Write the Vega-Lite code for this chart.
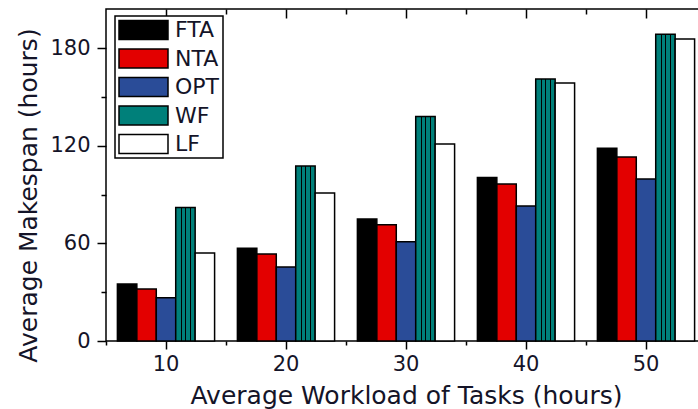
{
  "$schema": "https://vega.github.io/schema/vega-lite/v6.json",
  "width": 600,
  "height": 332,
  "autosize": {"type": "none"},
  "padding": {"left": 106, "top": 9, "right": 0, "bottom": 68},
  "background": "white",
  "config": {
    "view": {"stroke": "black", "strokeWidth": 1.5},
    "font": "DejaVu Sans",
    "axis": {"labelFont": "DejaVu Sans", "titleFont": "DejaVu Sans", "labelColor": "#141428", "titleColor": "#141428", "tickColor": "black", "tickWidth": 1.5, "domain": false, "grid": false, "titleFontWeight": "normal"}
  },
  "data": {"values": [
    {"load": 10, "method": "FTA", "value": 35},
    {"load": 10, "method": "NTA", "value": 32},
    {"load": 10, "method": "OPT", "value": 26.5},
    {"load": 10, "method": "WF", "value": 82},
    {"load": 10, "method": "LF", "value": 54},
    {"load": 20, "method": "FTA", "value": 57},
    {"load": 20, "method": "NTA", "value": 53.5},
    {"load": 20, "method": "OPT", "value": 45.5},
    {"load": 20, "method": "WF", "value": 107.5},
    {"load": 20, "method": "LF", "value": 91},
    {"load": 30, "method": "FTA", "value": 75},
    {"load": 30, "method": "NTA", "value": 71.5},
    {"load": 30, "method": "OPT", "value": 61},
    {"load": 30, "method": "WF", "value": 138},
    {"load": 30, "method": "LF", "value": 121},
    {"load": 40, "method": "FTA", "value": 100.5},
    {"load": 40, "method": "NTA", "value": 96.5},
    {"load": 40, "method": "OPT", "value": 83},
    {"load": 40, "method": "WF", "value": 161},
    {"load": 40, "method": "LF", "value": 158.5},
    {"load": 50, "method": "FTA", "value": 118.5},
    {"load": 50, "method": "NTA", "value": 113},
    {"load": 50, "method": "OPT", "value": 99.5},
    {"load": 50, "method": "WF", "value": 188.5},
    {"load": 50, "method": "LF", "value": 185.5}
  ]},
  "layer": [
    {
      "mark": {"type": "bar", "stroke": "black", "strokeWidth": 1.5, "opacity": 1},
      "encoding": {
        "x": {"field": "load", "type": "ordinal", "scale": {"paddingInner": 0.19, "paddingOuter": 0.095},
              "axis": {"orient": "bottom", "ticks": false, "labelAngle": 0, "labelFontSize": 21, "labelPadding": 12, "title": "Average Workload of Tasks (hours)", "titleFontSize": 25, "titlePadding": 9}},
        "xOffset": {"field": "method", "type": "nominal", "sort": ["FTA", "NTA", "OPT", "WF", "LF"], "scale": {"paddingInner": 0, "paddingOuter": 0}},
        "y": {"field": "value", "type": "quantitative", "scale": {"domain": [0, 204], "nice": false},
              "axis": {"orient": "left", "values": [0, 30, 60, 90, 120, 150, 180], "tickSize": {"condition": {"test": "datum.value % 60 === 0", "value": 9}, "value": 5},
                       "labelExpr": "datum.value % 60 === 0 ? datum.label : ''", "labelFontSize": 21, "labelPadding": 7, "title": "Average Makespan (hours)", "titleFontSize": 25, "titlePadding": 8, "titleY": 186}},
        "color": {
          "condition": {"test": "datum.method === 'WF'", "value": {"gradient": "linear", "x1": 0, "y1": 0, "x2": 1, "y2": 0, "stops": [
              {"offset": 0, "color": "#00807a"}, {"offset": 0.25, "color": "#00807a"}, {"offset": 0.25, "color": "#000000"}, {"offset": 0.31, "color": "#000000"},
              {"offset": 0.31, "color": "#00807a"}, {"offset": 0.49, "color": "#00807a"}, {"offset": 0.49, "color": "#000000"}, {"offset": 0.55, "color": "#000000"},
              {"offset": 0.55, "color": "#00807a"}, {"offset": 0.73, "color": "#00807a"}, {"offset": 0.73, "color": "#000000"}, {"offset": 0.79, "color": "#000000"},
              {"offset": 0.79, "color": "#00807a"}, {"offset": 1, "color": "#00807a"}]}},
          "field": "method", "type": "nominal", "sort": ["FTA", "NTA", "OPT", "WF", "LF"],
          "scale": {"domain": ["FTA", "NTA", "OPT", "WF", "LF"], "range": ["#000000", "#e30000", "#2a4c98", "#00807a", "#ffffff"]},
          "legend": {"orient": "none", "legendX": 9, "legendY": 7, "title": null, "direction": "vertical",
                     "strokeColor": "black", "fillColor": "white", "padding": 3, "cornerRadius": 0,
                     "symbolType": "M-1,-0.39H1V0.39H-1Z", "symbolSize": 2401, "symbolStrokeColor": "black", "symbolStrokeWidth": 1.5, "symbolOpacity": 1,
                     "labelFontSize": 22, "labelFont": "DejaVu Sans", "labelColor": "#141428", "labelOffset": 6, "rowPadding": 6.5, "clipHeight": 22,
                     "encode": {"legend": {"update": {"strokeWidth": {"value": 1.5}}}}}}
      }
    },
    {
      "mark": {"type": "point", "opacity": 0},
      "encoding": {
        "x": {"field": "load", "type": "quantitative", "scale": {"domain": [5, 55], "nice": false, "zero": false},
              "axis": {"orient": "bottom", "values": [5, 10, 15, 20, 25, 30, 35, 40, 45, 50, 55], "labels": false, "title": null,
                       "tickSize": {"condition": {"test": "datum.value % 10 === 0", "value": 8}, "value": 4}}}
      }
    },
    {
      "mark": {"type": "point", "opacity": 0},
      "encoding": {
        "x": {"field": "load", "type": "quantitative", "scale": {"domain": [5, 55], "nice": false, "zero": false},
              "axis": {"orient": "top", "values": [10, 15, 20, 25, 30, 35, 40, 45, 50], "labels": false, "title": null,
                       "tickSize": {"condition": {"test": "datum.value % 10 === 0", "value": -9}, "value": -5}}}
      }
    }
  ],
  "resolve": {"scale": {"x": "independent"}, "axis": {"x": "independent"}}
}
